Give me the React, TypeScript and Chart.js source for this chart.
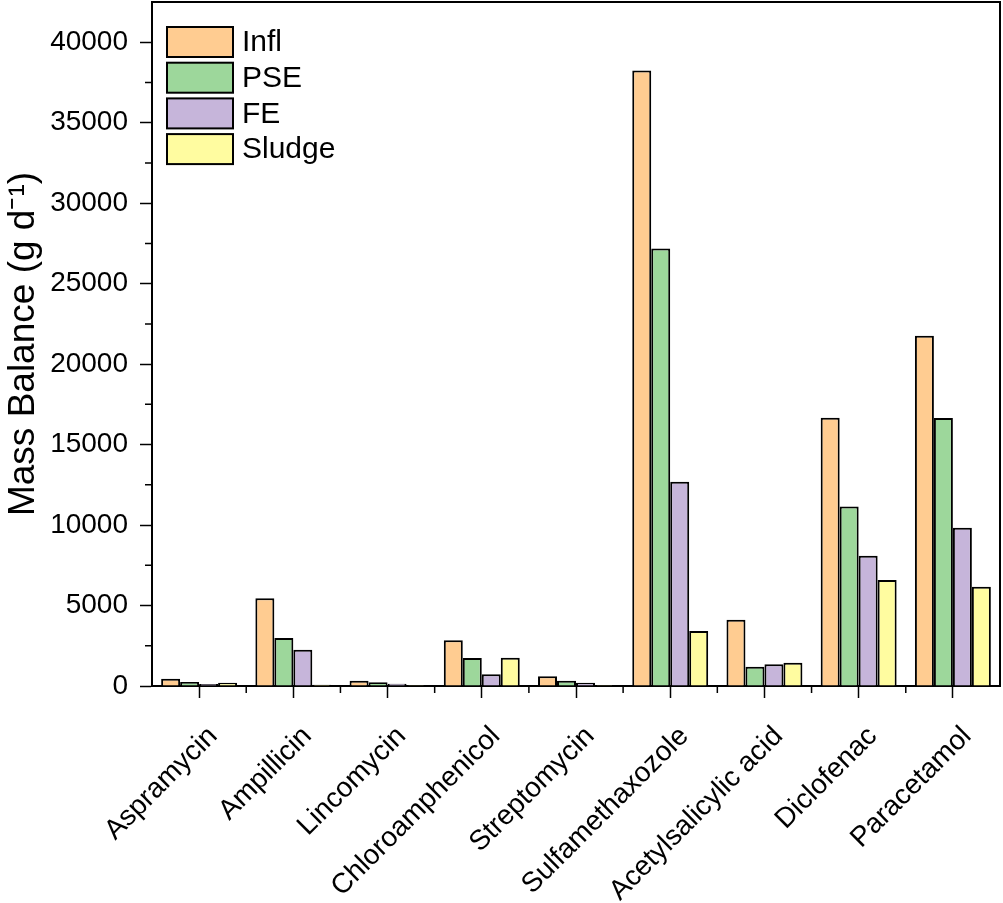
import React, { useEffect, useRef } from "react";
import { Chart, registerables } from "chart.js";

Chart.register(...registerables);

const categories = [
  "Aspramycin",
  "Ampillicin",
  "Lincomycin",
  "Chloroamphenicol",
  "Streptomycin",
  "Sulfamethaxozole",
  "Acetylsalicylic acid",
  "Diclofenac",
  "Paracetamol",
];

const seriesNames = ["Infl", "PSE", "FE", "Sludge"];
const inflValues = [450, 5450, 330, 2840, 600, 38250, 4120, 16670, 21770];
const pseValues = [250, 2990, 230, 1740, 330, 27180, 1200, 11150, 16650];
const feValues = [120, 2260, 140, 730, 200, 12690, 1350, 8100, 9830];
const sludgeValues = [200, 80, 60, 1760, 60, 3420, 1450, 6590, 6160];
const seriesColors = ["#FFCC91", "#9DD79B", "#C6B5DA", "#FFFCA0"];

const yTicks = [0, 5000, 10000, 15000, 20000, 25000, 30000, 35000, 40000];
const yMinorTicks = [2500, 7500, 12500, 17500, 22500, 27500, 32500, 37500];
const yMax = 42500;
const yTitle = "Mass Balance (g d\u207B\u00B9)";

const FONT = "'Liberation Sans', Arial, Helvetica, sans-serif";

const decorPlugin = {
  id: "decor",
  afterDraw(chart: any) {
    const ctx = chart.ctx;
    const area = chart.chartArea;
    const x = chart.scales.x;
    const y = chart.scales.y;
    ctx.save();
    ctx.strokeStyle = "#000";
    // frame top and right
    ctx.lineWidth = 2;
    ctx.beginPath();
    ctx.moveTo(area.left - 1, area.top);
    ctx.lineTo(area.right, area.top);
    ctx.lineTo(area.right, area.bottom);
    ctx.stroke();
    // y minor ticks
    ctx.lineWidth = 1.5;
    ctx.beginPath();
    yMinorTicks.forEach((v) => {
      const py = y.getPixelForValue(v);
      ctx.moveTo(area.left, py);
      ctx.lineTo(area.left - 7, py);
    });
    // x minor ticks at category boundaries
    for (let i = 0; i < categories.length - 1; i++) {
      const px = (x.getPixelForValue(i) + x.getPixelForValue(i + 1)) / 2;
      ctx.moveTo(px, area.bottom);
      ctx.lineTo(px, area.bottom + 7);
    }
    ctx.stroke();
    // legend
    const lx = 167;
    const ly = 27;
    const bw = 66;
    const bh = 30;
    const pitch = 35.7;
    ctx.font = `30px ${FONT}`;
    ctx.textBaseline = "middle";
    ctx.textAlign = "left";
    chart.data.datasets.forEach((ds: any, i: number) => {
      const top = ly + i * pitch;
      ctx.fillStyle = ds.backgroundColor;
      ctx.fillRect(lx, top, bw, bh);
      ctx.lineWidth = 2;
      ctx.strokeStyle = "#000";
      ctx.strokeRect(lx, top, bw, bh);
      ctx.fillStyle = "#000";
      ctx.fillText(ds.label, lx + bw + 9, top + bh / 2 + 1);
    });
    ctx.restore();
  },
};

export default function App() {
  const canvasRef = useRef<HTMLCanvasElement | null>(null);

  useEffect(() => {
    if (!canvasRef.current) return;
    const valueLists = [inflValues, pseValues, feValues, sludgeValues];
    const chart = new Chart(canvasRef.current, {
      type: "bar",
      data: {
        labels: categories,
        datasets: seriesNames.map((name, i) => ({
          label: name,
          data: valueLists[i],
          backgroundColor: seriesColors[i],
          borderColor: "#000",
          borderWidth: 2,
          borderSkipped: "bottom",
          categoryPercentage: 0.806,
          barPercentage: 1,
        })),
      },
      options: {
        animation: false,
        responsive: true,
        maintainAspectRatio: false,
        devicePixelRatio: 1,
        layout: { padding: { top: 2, right: 3, left: 0, bottom: 0 } },
        plugins: {
          legend: { display: false },
          tooltip: { enabled: false },
        },
        scales: {
          x: {
            offset: true,
            grid: {
              offset: false,
              drawOnChartArea: false,
              drawTicks: true,
              tickLength: 12,
              tickWidth: 1.5,
              tickColor: "#000",
            },
            border: { display: true, color: "#000", width: 2 },
            ticks: {
              autoSkip: false,
              minRotation: 45,
              maxRotation: 45,
              padding: 22,
              labelOffset: 14,
              color: "#000",
              font: { family: FONT, size: 28 },
            },
            afterFit(scale: any) {
              scale.height = 217;
              scale.paddingLeft = 0;
              scale.paddingRight = 0;
            },
          },
          y: {
            min: 0,
            max: yMax,
            grid: {
              drawOnChartArea: false,
              drawTicks: true,
              tickLength: 12,
              tickWidth: 1.5,
              tickColor: "#000",
            },
            border: { display: true, color: "#000", width: 2 },
            ticks: {
              padding: 12,
              color: "#000",
              font: { family: FONT, size: 28 },
              callback: (v: any) => String(v),
            },
            afterBuildTicks(scale: any) {
              scale.ticks = yTicks.map((v) => ({ value: v }));
            },
            afterFit(scale: any) {
              scale.width = 152;
              scale.paddingTop = 0;
              scale.paddingBottom = 0;
            },
            title: {
              display: true,
              text: yTitle,
              color: "#000",
              font: { family: FONT, size: 37 },
              padding: { top: 2, bottom: 0 },
            },
          },
        },
      },
      plugins: [decorPlugin],
    });
    return () => chart.destroy();
  }, []);

  return (
    <div
      style={{
        position: "fixed",
        left: 0,
        top: 0,
        width: 1003,
        height: 903,
        background: "#fff",
      }}
    >
      <canvas ref={canvasRef} />
    </div>
  );
}
